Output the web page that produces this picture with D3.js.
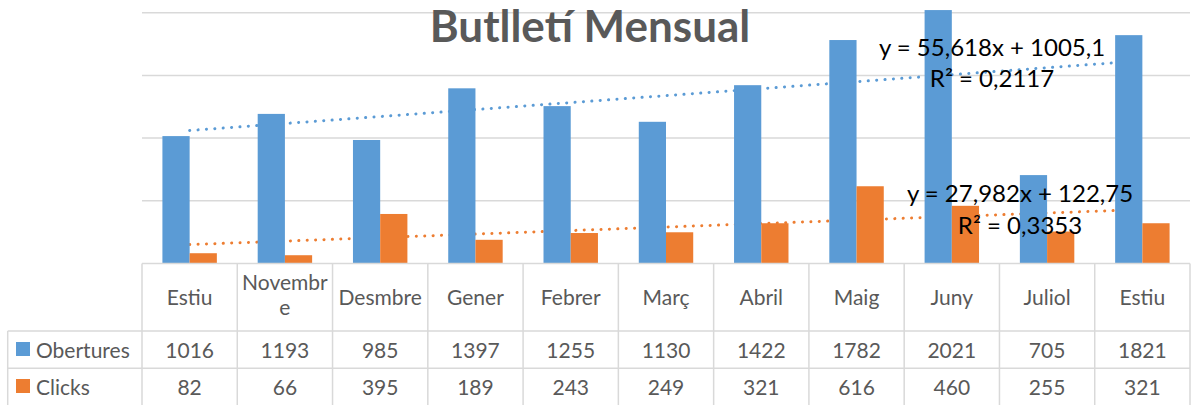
<!DOCTYPE html>
<html>
<head>
<meta charset="utf-8">
<script src="https://cdn.jsdelivr.net/npm/d3@7"></script>
<style>
  body { margin: 0; background: #fff; }
  svg { display: block; font-family: Lato, "Open Sans", sans-serif; }
</style>
</head>
<body>
<svg id="chart" width="1200" height="405"></svg>
<script>
// data
var months = ["Estiu", "Novembre", "Desmbre", "Gener", "Febrer", "Març", "Abril", "Maig", "Juny", "Juliol", "Estiu"];
var obertures = [1016, 1193, 985, 1397, 1255, 1130, 1422, 1782, 2021, 705, 1821];
var clicks = [82, 66, 395, 189, 243, 249, 321, 616, 460, 255, 321];
var seriesNames = ["Obertures", "Clicks"];
var yTicks = [0, 500, 1000, 1500, 2000];
var trendLabels = [["y = 55,618x + 1005,1", "R² = 0,2117"], ["y = 27,982x + 122,75", "R² = 0,3353"]];

var colors = ["#5b9bd5", "#ed7d31"];
var grey = "#595959", lineGrey = "#d9d9d9";

var svg = d3.select("#chart");

var plotLeft = 142, plotRight = 1190, base = 263.5, plotTop = 12.7;
var x = d3.scaleBand().domain(d3.range(months.length)).range([plotLeft, plotRight]);
var xs = d3.scaleBand().domain(seriesNames).range([0, x.bandwidth()]).paddingOuter(0.75);
var y = d3.scaleLinear().domain([0, 2000]).range([base, plotTop]);

// gridlines
svg.append("g").selectAll("line")
   .data(yTicks.slice(1))
   .join("line")
   .attr("x1", plotLeft).attr("x2", plotRight)
   .attr("y1", d => y(d)).attr("y2", d => y(d))
   .attr("stroke", lineGrey).attr("stroke-width", 1.5);

// title
svg.append("text")
   .attr("x", 590).attr("y", 42)
   .attr("text-anchor", "middle")
   .attr("font-size", 44).attr("font-weight", "bold")
   .attr("fill", grey)
   .text("Butlletí Mensual");

var series = [obertures, clicks];

// trendlines (least squares, behind bars)
series.forEach((vals, si) => {
  var xsN = vals.map((v, i) => i + 1);
  var mx = d3.mean(xsN), my = d3.mean(vals);
  var slope = d3.sum(vals, (v, i) => (xsN[i] - mx) * (v - my)) / d3.sum(xsN, k => (k - mx) * (k - mx));
  var icpt = my - slope * mx;
  var ends = [0, vals.length - 1];
  svg.append("path")
     .datum(ends)
     .attr("d", d3.line()
        .x(i => x(i) + x.bandwidth() / 2)
        .y(i => y(slope * (i + 1) + icpt)))
     .attr("fill", "none")
     .attr("stroke", colors[si])
     .attr("stroke-width", 3)
     .attr("stroke-linecap", "round")
     .attr("stroke-dasharray", "0.1 8.3");
});

// bars
series.forEach((vals, si) => {
  svg.append("g").selectAll("rect")
     .data(vals)
     .join("rect")
     .attr("x", (d, i) => x(i) + xs(seriesNames[si]))
     .attr("width", xs.bandwidth())
     .attr("y", d => y(d))
     .attr("height", d => base - y(d))
     .attr("fill", colors[si]);
});

// trendline equations
var labelPos = [[992, 56, 992, 87], [1020, 202, 1020, 234]];
trendLabels.forEach((lab, si) => {
  var p = labelPos[si];
  svg.append("text").attr("x", p[0]).attr("y", p[1]).attr("text-anchor", "middle")
     .attr("font-size", 24).attr("fill", "#000").text(lab[0]);
  svg.append("text").attr("x", p[2]).attr("y", p[3]).attr("text-anchor", "middle")
     .attr("font-size", 24).attr("fill", "#000").text(lab[1]);
});

// data table
var tbl = svg.append("g").attr("stroke", lineGrey).attr("stroke-width", 1.5);
var rowTop = 331, rowMid = 368.3, rowBot = 405;
tbl.append("line").attr("x1", plotLeft).attr("x2", plotRight).attr("y1", base).attr("y2", base);
tbl.append("line").attr("x1", 7.7).attr("x2", plotRight).attr("y1", rowTop).attr("y2", rowTop);
tbl.append("line").attr("x1", 7.7).attr("x2", plotRight).attr("y1", rowMid).attr("y2", rowMid);
tbl.append("line").attr("x1", 7.7).attr("x2", 7.7).attr("y1", rowTop).attr("y2", rowBot);
tbl.selectAll("line.v")
   .data(d3.range(months.length + 1))
   .join("line")
   .attr("x1", i => plotLeft + i * x.step()).attr("x2", i => plotLeft + i * x.step())
   .attr("y1", base).attr("y2", rowBot);

var txt = svg.append("g").attr("fill", grey).attr("font-size", 21).attr("text-anchor", "middle");

// category header (wrap long names like Excel)
months.forEach((m, i) => {
  var cx = x(i) + x.bandwidth() / 2;
  if (m === "Novembre") {
    txt.append("text").attr("x", cx).attr("y", 290).text("Novembr");
    txt.append("text").attr("x", cx).attr("y", 315).text("e");
  } else {
    txt.append("text").attr("x", cx).attr("y", 305).text(m);
  }
});

series.forEach((vals, si) => {
  var ty = si === 0 ? 358 : 395;
  vals.forEach((v, i) => {
    txt.append("text").attr("x", x(i) + x.bandwidth() / 2).attr("y", ty).text(v);
  });
  svg.append("rect").attr("x", 16).attr("y", ty - 16).attr("width", 14).attr("height", 14)
     .attr("fill", colors[si]);
  svg.append("text").attr("x", 36).attr("y", ty).attr("font-size", 21).attr("fill", grey)
     .text(seriesNames[si]);
});
</script>
</body>
</html>
